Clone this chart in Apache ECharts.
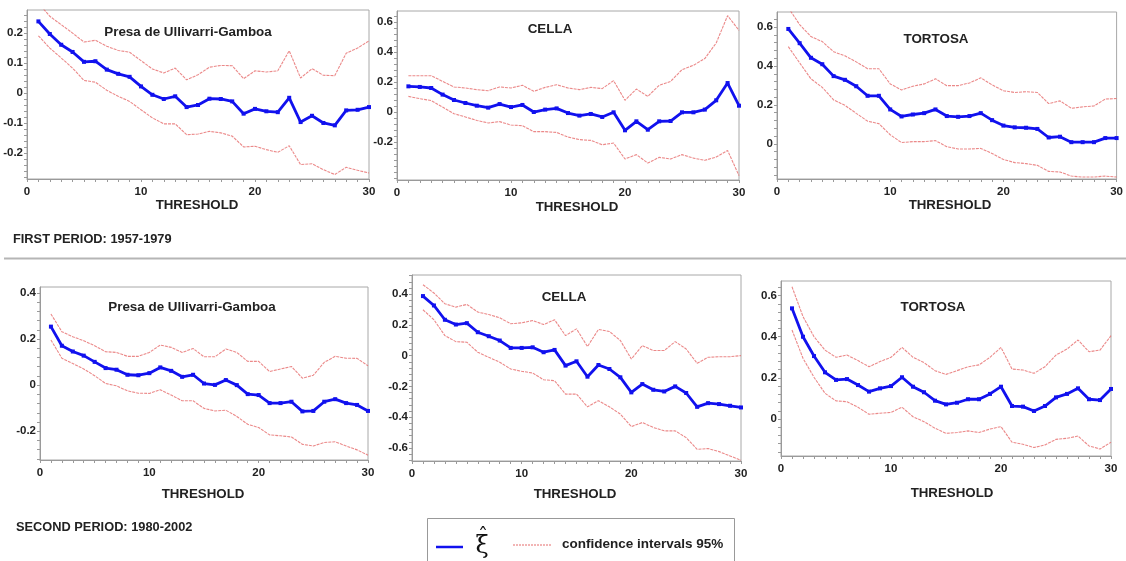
<!DOCTYPE html>
<html>
<head>
<meta charset="utf-8">
<script src="https://cdn.jsdelivr.net/npm/echarts@6/dist/echarts.min.js"></script>
<style>
html,body{margin:0;padding:0;background:#fff;}
#chart{width:1126px;height:561px;}
</style>
</head>
<body>
<div id="chart"></div>
<script>
// ---- data ----
const thresholds = [1,2,3,4,5,6,7,8,9,10,11,12,13,14,15,16,17,18,19,20,21,22,23,24,25,26,27,28,29,30];
const panelTitles = ["Presa de Ullivarri-Gamboa","CELLA","TORTOSA","Presa de Ullivarri-Gamboa","CELLA","TORTOSA"];
const xAxisName = "THRESHOLD";
const periodLabels = ["FIRST PERIOD: 1957-1979","SECOND PERIOD: 1980-2002"];
const legendSymbol = "ξ";
const legendHat = "ˆ";
const legendCI = "confidence intervals 95%";
const xTickLabels = [0,10,20,30];
const yTickLabels = [
  [-0.2,-0.1,0,0.1,0.2],
  [-0.2,0,0.2,0.4,0.6],
  [0,0.2,0.4,0.6],
  [-0.2,0,0.2,0.4],
  [-0.6,-0.4,-0.2,0,0.2,0.4],
  [0,0.2,0.4,0.6]
];
const yMinorTicks = [
  [-0.28,-0.26,-0.24,-0.22,-0.2,-0.18,-0.16,-0.14,-0.12,-0.1,-0.08,-0.06,-0.04,-0.02,0,0.02,0.04,0.06,0.08,0.1,0.12,0.14,0.16,0.18,0.2,0.22,0.24,0.26],
  [-0.44,-0.4,-0.36,-0.32,-0.28,-0.24,-0.2,-0.16,-0.12,-0.08,-0.04,0,0.04,0.08,0.12,0.16,0.2,0.24,0.28,0.32,0.36,0.4,0.44,0.48,0.52,0.56,0.6,0.64],
  [-0.16,-0.12,-0.08,-0.04,0,0.04,0.08,0.12,0.16,0.2,0.24,0.28,0.32,0.36,0.4,0.44,0.48,0.52,0.56,0.6,0.64],
  [-0.32,-0.28,-0.24,-0.2,-0.16,-0.12,-0.08,-0.04,0,0.04,0.08,0.12,0.16,0.2,0.24,0.28,0.32,0.36,0.4],
  [-0.68,-0.64,-0.6,-0.56,-0.52,-0.48,-0.44,-0.4,-0.36,-0.32,-0.28,-0.24,-0.2,-0.16,-0.12,-0.08,-0.04,0,0.04,0.08,0.12,0.16,0.2,0.24,0.28,0.32,0.36,0.4,0.44,0.48,0.52],
  [-0.16,-0.12,-0.08,-0.04,0,0.04,0.08,0.12,0.16,0.2,0.24,0.28,0.32,0.36,0.4,0.44,0.48,0.52,0.56,0.6,0.64]
];
const yRanges = [[-0.287,0.277],[-0.453,0.673],[-0.18,0.677],[-0.325,0.426],[-0.685,0.524],[-0.18,0.671]];

// Panel 1: Presa de Ullivarri-Gamboa, 1957-1979
const xi1  = [0.239,0.197,0.161,0.137,0.104,0.106,0.078,0.064,0.054,0.022,-0.006,-0.020,-0.011,-0.047,-0.040,-0.019,-0.020,-0.028,-0.069,-0.053,-0.061,-0.064,-0.016,-0.097,-0.076,-0.100,-0.108,-0.058,-0.056,-0.047];
const up1  = [0.300,0.256,0.228,0.200,0.170,0.176,0.156,0.142,0.136,0.108,0.080,0.067,0.083,0.044,0.061,0.086,0.092,0.091,0.048,0.074,0.070,0.074,0.141,0.050,0.081,0.059,0.058,0.133,0.150,0.174];
const lo1  = [0.191,0.150,0.117,0.083,0.042,0.036,0.009,-0.011,-0.028,-0.056,-0.083,-0.103,-0.103,-0.139,-0.137,-0.128,-0.133,-0.144,-0.180,-0.178,-0.189,-0.198,-0.176,-0.239,-0.236,-0.256,-0.272,-0.248,-0.258,-0.267];
// Panel 2: CELLA, 1957-1979
const xi2  = [0.171,0.167,0.160,0.116,0.080,0.060,0.042,0.029,0.053,0.033,0.047,0.000,0.016,0.024,-0.007,-0.024,-0.013,-0.033,-0.002,-0.122,-0.062,-0.118,-0.062,-0.060,-0.002,-0.002,0.016,0.078,0.193,0.042];
const up2  = [0.242,0.242,0.242,0.204,0.167,0.160,0.149,0.142,0.167,0.160,0.178,0.138,0.164,0.182,0.160,0.149,0.164,0.156,0.209,0.078,0.153,0.104,0.178,0.204,0.282,0.311,0.356,0.460,0.642,0.544];
const lo2  = [0.104,0.089,0.076,0.033,-0.011,-0.033,-0.056,-0.073,-0.064,-0.087,-0.091,-0.131,-0.131,-0.136,-0.167,-0.184,-0.189,-0.218,-0.207,-0.313,-0.284,-0.340,-0.302,-0.313,-0.284,-0.307,-0.322,-0.300,-0.256,-0.424];
// Panel 3: TORTOSA, 1957-1979
const xi3  = [0.590,0.517,0.442,0.409,0.348,0.329,0.296,0.247,0.247,0.177,0.141,0.151,0.158,0.177,0.143,0.139,0.143,0.158,0.122,0.094,0.085,0.083,0.077,0.033,0.037,0.009,0.009,0.009,0.030,0.030];
const up3  = [0.700,0.612,0.551,0.525,0.473,0.452,0.421,0.386,0.386,0.308,0.277,0.296,0.308,0.334,0.299,0.299,0.313,0.339,0.303,0.273,0.264,0.268,0.264,0.207,0.221,0.183,0.190,0.195,0.230,0.233];
const lo3  = [0.499,0.416,0.334,0.290,0.226,0.198,0.157,0.117,0.104,0.047,0.007,0.012,0.012,0.017,-0.014,-0.026,-0.026,-0.023,-0.049,-0.080,-0.096,-0.101,-0.110,-0.141,-0.144,-0.165,-0.170,-0.170,-0.165,-0.170];
// Panel 4: Presa de Ullivarri-Gamboa, 1980-2002
const xi4  = [0.254,0.171,0.146,0.128,0.101,0.074,0.067,0.045,0.043,0.052,0.077,0.062,0.036,0.045,0.007,0.001,0.022,0.000,-0.039,-0.043,-0.078,-0.078,-0.072,-0.114,-0.112,-0.072,-0.061,-0.078,-0.086,-0.112];
const up4  = [0.309,0.232,0.210,0.193,0.171,0.145,0.142,0.125,0.125,0.142,0.174,0.164,0.142,0.159,0.123,0.123,0.157,0.142,0.103,0.103,0.059,0.070,0.081,0.030,0.043,0.099,0.125,0.117,0.116,0.084];
const lo4  = [0.196,0.117,0.094,0.070,0.041,0.007,-0.003,-0.025,-0.035,-0.036,-0.020,-0.043,-0.068,-0.068,-0.101,-0.112,-0.109,-0.136,-0.170,-0.184,-0.216,-0.220,-0.225,-0.257,-0.264,-0.249,-0.246,-0.264,-0.281,-0.304];
// Panel 5: CELLA, 1980-2002
const xi5  = [0.387,0.326,0.233,0.202,0.211,0.152,0.126,0.098,0.050,0.050,0.054,0.022,0.037,-0.065,-0.037,-0.137,-0.061,-0.087,-0.141,-0.239,-0.185,-0.222,-0.233,-0.200,-0.243,-0.333,-0.309,-0.315,-0.326,-0.337];
const up5  = [0.461,0.407,0.337,0.315,0.333,0.283,0.267,0.246,0.207,0.213,0.228,0.202,0.233,0.130,0.174,0.059,0.170,0.157,0.098,-0.022,0.065,0.033,0.033,0.091,0.043,-0.050,-0.011,-0.007,-0.007,0.000];
const lo5  = [0.298,0.233,0.130,0.091,0.087,0.022,-0.011,-0.043,-0.087,-0.102,-0.113,-0.157,-0.163,-0.250,-0.250,-0.333,-0.293,-0.333,-0.380,-0.461,-0.435,-0.467,-0.489,-0.489,-0.533,-0.609,-0.604,-0.624,-0.652,-0.680];
// Panel 6: TORTOSA, 1980-2002
const xi6  = [0.538,0.400,0.306,0.227,0.190,0.194,0.165,0.133,0.149,0.160,0.203,0.157,0.130,0.089,0.071,0.079,0.096,0.096,0.122,0.157,0.063,0.060,0.039,0.063,0.105,0.122,0.149,0.096,0.092,0.146];
const up6  = [0.643,0.498,0.400,0.335,0.300,0.311,0.284,0.254,0.279,0.300,0.348,0.300,0.274,0.235,0.217,0.235,0.254,0.263,0.300,0.348,0.243,0.238,0.222,0.254,0.311,0.340,0.384,0.327,0.335,0.405];
const lo6  = [0.433,0.295,0.203,0.125,0.088,0.084,0.057,0.023,0.028,0.032,0.057,0.011,-0.013,-0.045,-0.070,-0.066,-0.058,-0.066,-0.049,-0.037,-0.113,-0.123,-0.139,-0.126,-0.099,-0.094,-0.083,-0.131,-0.146,-0.113];

const xiSeries = [xi1,xi2,xi3,xi4,xi5,xi6];
const upSeries = [up1,up2,up3,up4,up5,up6];
const loSeries = [lo1,lo2,lo3,lo4,lo5,lo6];

// ---- layout ----
const grids = [
  {left:27, top:10, width:342, height:169},
  {left:397, top:11, width:342, height:169},
  {left:777, top:12, width:342, height:167},
  {left:40, top:287, width:328, height:173},
  {left:412, top:275, width:329, height:186},
  {left:781, top:281, width:330, height:175}
];
const titlePos = [[188,32],[550,29],[936,39],[192,307],[564,297],[933,307]];
const xNamePos = [[197,205],[577,207],[950,205],[203,494],[575,494],[952,493]];

const BLUE = '#1111ee';
const RED = '#e66c6c';
const FONT = '"Liberation Sans", Arial, sans-serif';

function pair(arr){ return thresholds.map((t,i)=>[t,arr[i]]); }

const xAxes = [], yAxes = [], series = [], graphics = [];
grids.forEach((g,i)=>{
  xAxes.push({
    gridIndex:i, type:'value', min:0, max:30, interval:10,
    axisLine:{show:true, onZero:false, lineStyle:{color:'#9a9a9a', width:1}},
    axisTick:{show:true, length:3, lineStyle:{color:'#9a9a9a'}},
    minorTick:{show:true, splitNumber:10, length:3, lineStyle:{color:'#9a9a9a'}},
    splitLine:{show:false},
    axisLabel:{color:'#222', fontFamily:FONT, fontWeight:'bold', fontSize:11.5, margin:7, showMinLabel:true, showMaxLabel:true}
  });
  yAxes.push({
    gridIndex:i, type:'value', min:yRanges[i][0], max:yRanges[i][1],
    axisLine:{show:true, lineStyle:{color:'#9a9a9a', width:1}},
    axisTick:{show:true, length:3, customValues:yMinorTicks[i], lineStyle:{color:'#9a9a9a'}},
    splitLine:{show:false},
    axisLabel:{color:'#222', fontFamily:FONT, fontWeight:'bold', fontSize:11.5, margin:4,
      customValues:yTickLabels[i], formatter:v=>{ const r=Math.round(v*10)/10; return r===0?'0':String(r); }}
  });
  series.push({
    type:'line', xAxisIndex:i, yAxisIndex:i, data:pair(upSeries[i]),
    symbol:'none', lineStyle:{color:RED, width:1.1, type:[3,1], opacity:0.8}, clip:true, silent:true, z:2
  });
  series.push({
    type:'line', xAxisIndex:i, yAxisIndex:i, data:pair(loSeries[i]),
    symbol:'none', lineStyle:{color:RED, width:1.1, type:[3,1], opacity:0.8}, clip:true, silent:true, z:2
  });
  series.push({
    type:'line', xAxisIndex:i, yAxisIndex:i, data:pair(xiSeries[i]),
    symbol:'rect', symbolSize:4, itemStyle:{color:BLUE}, lineStyle:{color:BLUE, width:2.8}, clip:true, silent:true, z:3
  });
  graphics.push({type:'text', x:titlePos[i][0], y:titlePos[i][1], z:10,
    style:{text:panelTitles[i], fill:'#222', font:'bold 13.4px '+FONT, align:'center', verticalAlign:'middle'}});
  graphics.push({type:'text', x:xNamePos[i][0], y:xNamePos[i][1], z:10,
    style:{text:xAxisName, fill:'#222', font:'bold 13.3px '+FONT, align:'center', verticalAlign:'middle'}});
});

// period labels and separator
graphics.push({type:'text', x:13, y:239, style:{text:periodLabels[0], fill:'#222', font:'bold 12.8px '+FONT, align:'left', verticalAlign:'middle'}});
graphics.push({type:'text', x:16, y:527, style:{text:periodLabels[1], fill:'#222', font:'bold 12.8px '+FONT, align:'left', verticalAlign:'middle'}});
graphics.push({type:'line', shape:{x1:4, y1:258.5, x2:1126, y2:258.5}, style:{stroke:'#b5b5b5', lineWidth:2}});

// legend
graphics.push({type:'rect', shape:{x:427.5, y:518.5, width:307, height:50}, style:{fill:'#fff', stroke:'#999', lineWidth:1}});
graphics.push({type:'line', shape:{x1:436, y1:547, x2:463, y2:547}, style:{stroke:BLUE, lineWidth:2.5}});
graphics.push({type:'text', x:482, y:547, style:{text:legendSymbol, fill:'#111', font:'24px "DejaVu Serif", serif', align:'center', verticalAlign:'middle'}});
graphics.push({type:'text', x:483, y:538, style:{text:legendHat, fill:'#111', font:'20px "DejaVu Serif", serif', align:'center', verticalAlign:'middle'}});
graphics.push({type:'line', shape:{x1:513, y1:545, x2:551, y2:545}, style:{stroke:RED, lineWidth:1.2, lineDash:[2,1]}});
graphics.push({type:'text', x:562, y:544, style:{text:legendCI, fill:'#222', font:'bold 13.5px '+FONT, align:'left', verticalAlign:'middle'}});

const chart = echarts.init(document.getElementById('chart'), null, {renderer:'canvas'});
chart.setOption({
  backgroundColor:'#fff',
  animation:false,
  grid: grids.map(g=>Object.assign({show:true, borderColor:'#a8a8a8', borderWidth:1, backgroundColor:'transparent'}, g)),
  xAxis:xAxes,
  yAxis:yAxes,
  series:series,
  graphic:graphics
});
</script>
</body>
</html>
